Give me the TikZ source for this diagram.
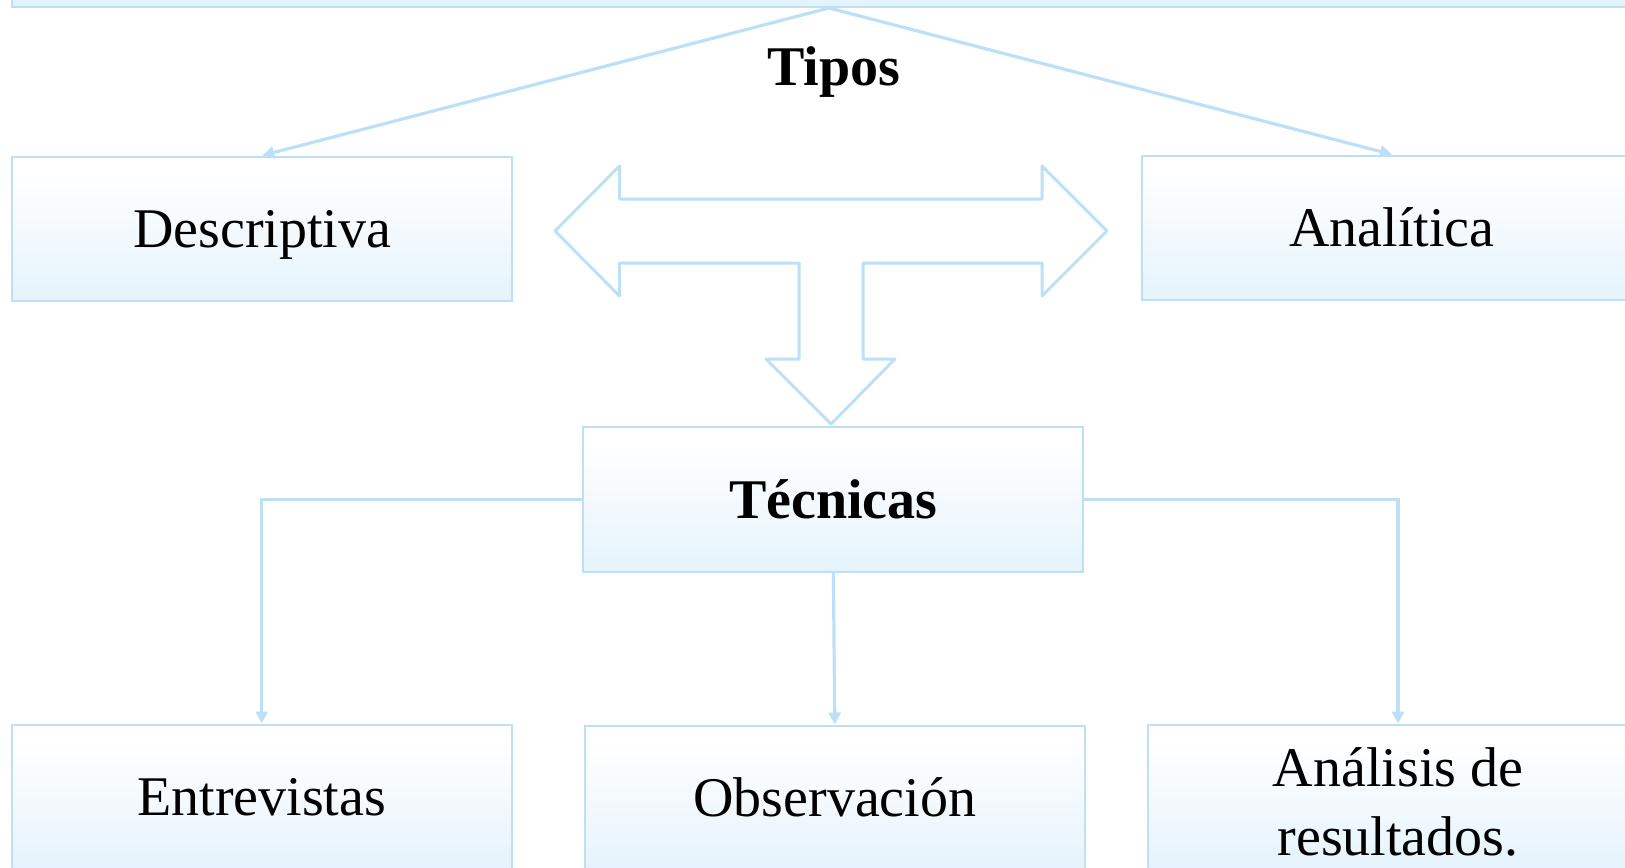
\documentclass[tikz,border=0pt]{standalone}
\usepackage{fontspec}
\setmainfont{Liberation Serif}
\usetikzlibrary{arrows.meta}
\definecolor{bordc}{RGB}{189,224,246}
\definecolor{fillc}{RGB}{229,243,252}
\pgfdeclareverticalshading{boxshade}{100bp}{color(0bp)=(fillc); color(25bp)=(fillc); color(70bp)=(white); color(100bp)=(white)}
\begin{document}
\begin{tikzpicture}[x=0.5pt,y=-0.5pt,
  box/.style={draw=bordc, line width=1pt, shading=boxshade, inner sep=0pt,
    minimum width=250pt, minimum height=72pt,
    font=\fontsize{28}{34}\selectfont, align=center},
  conn/.style={draw=bordc, line width=1.6pt, -{Triangle[length=6pt,width=6pt]}},
  bigarrow/.style={draw=bordc, line width=1.5pt, line join=round}]
\useasboundingbox (0,0) rectangle (1625,867);
% top box (partly outside)
\node[draw=bordc, line width=1pt, fill=fillc, minimum width=817pt, minimum height=23.5pt, inner sep=0pt] (top) at (829,-16.5) {};
\node[font=\fontsize{28}{34}\selectfont\bfseries, anchor=base] (tipos) at (834,85) {Tipos};
% level 2
\node[box, text depth=0pt] (desc) at (262.2,228.5) {Descriptiva};
\node[box] (anal) at (1392,227.5) {Analítica};
% tecnicas
\node[box, minimum height=72.5pt, font=\fontsize{28}{34}\selectfont\bfseries] (tec) at (833.4,499.5) {Técnicas};
% bottom row
\node[box, minimum height=72.25pt] (ent) at (261.7,796.75) {Entrevistas};
\node[box, minimum height=72.25pt] (obs) at (834.8,797.75) {Observación};
\node[box, minimum height=72.25pt,
  label={[font=\fontsize{28}{34.5}\selectfont, align=center, yshift=-2.4pt]center:Análisis de\\resultados.}] (res) at (1398,796.75) {};
% connectors
\draw[conn] (top.south) -- (desc.north);
\draw[conn] (top.south) -- (anal.north);
\draw[conn] (tec.west) -| (ent.north);
\draw[conn] (tec.south) -- (obs.north);
\draw[conn] (tec.east) -| (res.north);
% T-shaped block arrow
\draw[bigarrow] (555,231) -- (619.5,166) -- (619.5,199) -- (1042,199) -- (1042,166)
  -- (1107,231) -- (1042,296) -- (1042,263) -- (863,263) -- (863,359) -- (895,359)
  -- (831,424) -- (766,359) -- (799,359) -- (799,263) -- (619.5,263) -- (619.5,296) -- cycle;
\end{tikzpicture}
\end{document}
